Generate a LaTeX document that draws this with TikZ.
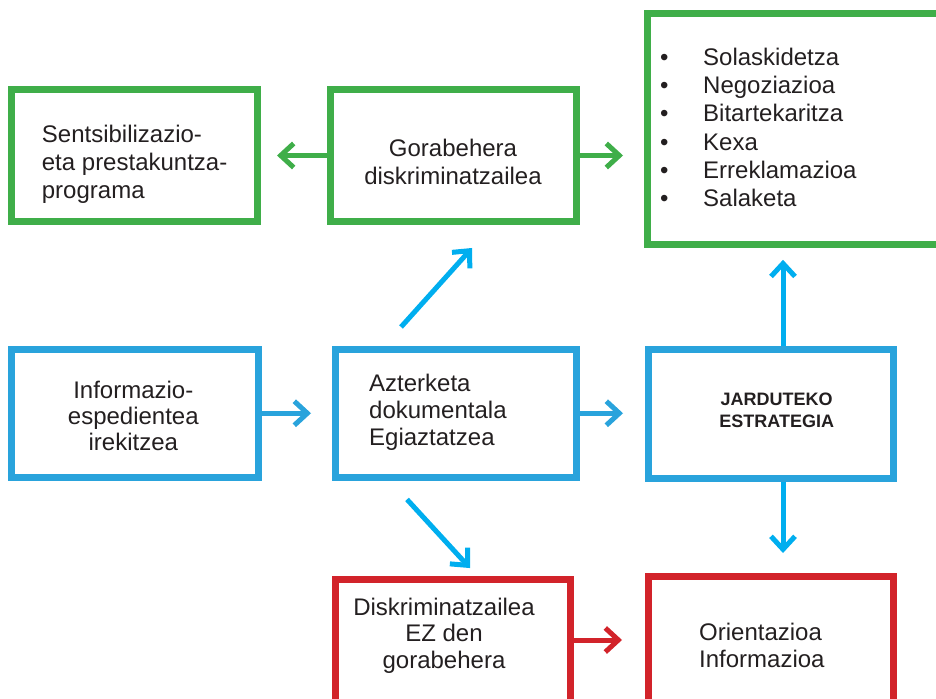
\documentclass[tikz,border=0pt]{standalone}
\usepackage{fontspec}
\setmainfont{Liberation Sans}
\usetikzlibrary{arrows.meta}

\definecolor{boxgreen}{RGB}{63,174,73}
\definecolor{boxblue}{RGB}{41,163,220}
\definecolor{boxred}{RGB}{210,35,42}
\definecolor{arrcyan}{RGB}{0,174,239}
\definecolor{ink}{RGB}{35,31,32}

\begin{document}
\begin{tikzpicture}[x=1pt, y=-1pt,
  box/.style={draw, line width=7pt, inner sep=0pt},
  txt/.style={inner sep=0pt, text=ink, font=\fontsize{24}{#1}\selectfont},
  txt/.default=26.5,
  arr/.style={line width=5pt, -{Straight Barb[sharp, length=13pt, width=24pt]}}]

\path[use as bounding box] (0,0) rectangle (936,698);
\clip (0,0) rectangle (936,698);

% Top row (green)
\node[box, draw=boxgreen, minimum width=245.5pt, minimum height=131.5pt] (sens) at (134.25,155.25) {};
\node[box, draw=boxgreen, minimum width=246pt, minimum height=132pt] (gora) at (453,155.5) {};
\node[box, draw=boxgreen, minimum width=298pt, minimum height=230.5pt] (list) at (796,128.75) {};

% Middle row (blue)
\node[box, draw=boxblue, minimum width=247pt, minimum height=128.5pt] (info) at (134.5,413.25) {};
\node[box, draw=boxblue, minimum width=241pt, minimum height=128.5pt] (azter) at (455.5,413.25) {};
\node[box, draw=boxblue, minimum width=245pt, minimum height=129pt] (jard) at (770.5,413.5) {};

% Bottom row (red)
\node[box, draw=boxred, minimum width=235pt, minimum height=150pt] (diskr) at (452.5,654.5) {};
\node[box, draw=boxred, minimum width=245pt, minimum height=150pt] (orient) at (770.5,651) {};

% Texts
\node[txt=28.3, align=left, anchor=north west] (sensTxt) at (41.7,124.5)
  {Sentsibilizazio-\\eta prestakuntza-\\programa};
\node[txt=28, align=center, anchor=north] (goraTxt) at (453,138.8)
  {Gorabehera\\diskriminatzailea};
\node[txt=28.3, align=left, anchor=north west] (listTxt) at (660,47.8)
  {\makebox[43pt][l]{\textbullet}Solaskidetza\\
   \makebox[43pt][l]{\textbullet}Negoziazioa\\
   \makebox[43pt][l]{\textbullet}Bitartekaritza\\
   \makebox[43pt][l]{\textbullet}Kexa\\
   \makebox[43pt][l]{\textbullet}Erreklamazioa\\
   \makebox[43pt][l]{\textbullet}Salaketa};
\node[txt=26, align=center, anchor=north] (infoTxt) at (133.3,381.1)
  {Informazio-\\espedientea\\irekitzea};
\node[txt=27, align=left, anchor=north west] (azterTxt) at (369,373.8)
  {Azterketa\\dokumentala\\Egiaztatzea};
\node[inner sep=0pt, text=ink, font=\fontsize{18}{22}\selectfont\bfseries,
  align=center, anchor=north] (jardTxt) at (776.7,393.1)
  {JARDUTEKO\\ESTRATEGIA};
\node[txt=26.5, align=center, anchor=north] (diskrTxt) at (444,597.8)
  {Diskriminatzailea\\EZ den\\gorabehera};
\node[txt=27, align=left, anchor=north west] (orientTxt) at (699,622.8)
  {Orientazioa\\Informazioa};

% Arrows
\draw[arr, boxgreen, shorten >=16.5pt] (gora.west) -- (sens.east |- gora.west);
\draw[arr, boxgreen, shorten >=20.5pt] (gora.east) -- (list.west |- gora.east);
\draw[arr, boxblue, shorten >=20.5pt] (info.east) -- (azter.west |- info.east);
\draw[arr, boxblue, shorten >=21.5pt] (azter.east) -- (jard.west |- azter.east);
\draw[arr, arrcyan, shorten <=24.9pt, shorten >=30.9pt]
  ([xshift=-71.1pt]azter.north) -- ([xshift=39.7pt]gora.south);
\draw[arr, arrcyan, shorten <=25pt, shorten >=10.8pt]
  ([xshift=-65.4pt]azter.south) -- ([xshift=24.8pt]diskr.north);
\draw[arr, arrcyan, shorten >=12.3pt]
  ([xshift=12.5pt]jard.north) -- ([xshift=12.5pt]jard.north |- list.south);
\draw[arr, arrcyan, shorten >=19.5pt]
  ([xshift=12.5pt]jard.south) -- ([xshift=12.5pt]jard.south |- orient.north);
\draw[arr, boxred, shorten >=22.5pt]
  ([yshift=14.5pt]diskr.east) -- ([yshift=14.5pt]diskr.east -| orient.west);

\end{tikzpicture}
\end{document}
